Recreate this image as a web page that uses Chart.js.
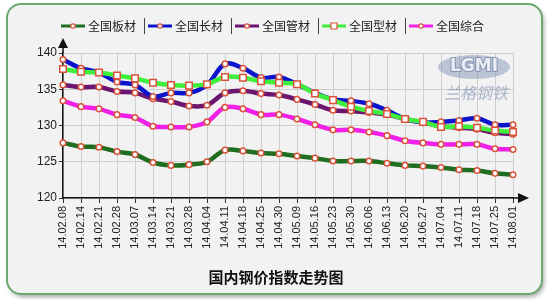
<!DOCTYPE html>
<html>
<head>
<meta charset="utf-8">
<script src="https://cdn.jsdelivr.net/npm/chart.js@4.4.1/dist/chart.umd.min.js"></script>
<style>
  html, body { margin: 0; padding: 0; background: #ffffff; }
  #wrap { width: 550px; height: 300px; }
</style>
</head>
<body>
<div id="wrap"><canvas id="steelChart" width="550" height="300"></canvas></div>
<script>
// weekly dates (yy.mm.dd)
const dateLabels = ['14.02.08','14.02.14','14.02.21','14.02.28','14.03.07','14.03.14','14.03.21','14.03.28',
  '14.04.04','14.04.11','14.04.18','14.04.25','14.04.30','14.05.09','14.05.16','14.05.23','14.05.30',
  '14.06.06','14.06.13','14.06.20','14.06.27','14.07.04','14.07.11','14.07.18','14.07.25','14.08.01'];

// index values
const banCai   = [127.6,127.1,127.0,126.4,126.0,124.9,124.5,124.6,125.0,126.6,126.5,126.2,126.1,125.8,125.5,125.1,125.1,125.1,124.8,124.5,124.4,124.2,123.9,123.8,123.4,123.2];
const changCai = [139.1,137.9,137.3,136.0,135.6,134.0,134.5,134.5,135.6,138.5,137.9,136.6,136.7,135.7,134.5,133.6,133.4,133.0,132.1,130.9,130.4,130.5,130.7,131.0,130.1,130.1];
const guanCai  = [135.6,135.3,135.3,134.7,134.5,133.7,133.3,132.7,132.8,134.5,134.8,134.4,134.2,133.6,132.9,132.1,132.0,131.8,131.5,130.9,130.4,129.9,129.7,129.5,129.0,128.8];
const xingCai  = [137.8,137.4,137.3,136.9,136.5,135.9,135.6,135.5,135.7,136.7,136.6,136.1,135.9,135.7,134.4,133.5,132.6,132.0,131.6,130.9,130.5,129.8,129.9,129.7,129.3,129.1];
const zongHe   = [133.4,132.6,132.3,131.5,131.1,129.9,129.8,129.8,130.5,132.5,132.3,131.5,131.5,130.9,130.1,129.4,129.4,129.1,128.6,127.9,127.6,127.4,127.4,127.4,126.8,126.7];

const seriesNames = ['全国板材','全国长材','全国管材','全国型材','全国综合'];
const yTicks = [120, 125, 130, 135, 140];

const cjkFont = '"Noto Sans CJK SC", "Noto Sans", sans-serif';
const markerBorder = '#d9533a';

function makeSeries(name, data, color, order, square) {
  return {
    label: name,
    data: data,
    borderColor: color,
    backgroundColor: color,
    borderWidth: 4.5,
    tension: 0.35,
    fill: false,
    order: order,
    pointStyle: square ? 'rect' : 'circle',
    pointRadius: square ? 4.6 : 2.8,
    pointBorderWidth: 1.5,
    pointBorderColor: markerBorder,
    pointBackgroundColor: '#ffffff',
    clip: false
  };
}

// rounded frame + shadow behind the whole chart
const framePlugin = {
  id: 'frame',
  beforeDraw(chart) {
    const ctx = chart.ctx;
    ctx.save();
    ctx.shadowColor = 'rgba(0,0,0,0.35)';
    ctx.shadowBlur = 4;
    ctx.shadowOffsetX = 2;
    ctx.shadowOffsetY = 3;
    ctx.beginPath();
    ctx.roundRect(7, 4, 535, 290, 14);
    ctx.fillStyle = '#f2f2f2';
    ctx.fill();
    ctx.restore();
    ctx.save();
    ctx.beginPath();
    ctx.roundRect(7, 4, 535, 290, 14);
    ctx.lineWidth = 2;
    ctx.strokeStyle = '#6ba86f';
    ctx.stroke();
    ctx.restore();
  }
};

// watermark logo, under the lines
const watermarkPlugin = {
  id: 'watermark',
  beforeDatasetsDraw(chart) {
    const ctx = chart.ctx;
    ctx.save();
    ctx.beginPath();
    ctx.ellipse(474, 67, 36, 12, 0, 0, Math.PI * 2);
    ctx.fillStyle = 'rgba(120,140,175,0.45)';
    ctx.fill();
    ctx.font = 'bold 17px "DejaVu Sans", sans-serif';
    ctx.textAlign = 'center';
    ctx.textBaseline = 'middle';
    ctx.lineWidth = 2;
    ctx.strokeStyle = 'rgba(100,120,160,0.6)';
    ctx.strokeText('LGMI', 474, 67);
    ctx.fillStyle = 'rgba(245,245,250,0.9)';
    ctx.fillText('LGMI', 474, 67);
    ctx.font = 'italic 16px ' + cjkFont;
    ctx.fillStyle = 'rgba(110,130,170,0.55)';
    ctx.fillText('兰格钢铁', 476, 93);
    ctx.restore();
  }
};

// axis arrows, legend row and bottom title
const decorPlugin = {
  id: 'decor',
  afterDraw(chart) {
    const ctx = chart.ctx;
    const area = chart.chartArea;
    ctx.save();
    ctx.strokeStyle = '#111';
    ctx.fillStyle = '#111';
    ctx.lineWidth = 1.5;
    // y arrow
    ctx.beginPath();
    ctx.moveTo(area.left, area.top);
    ctx.lineTo(area.left, 46);
    ctx.stroke();
    ctx.beginPath();
    ctx.moveTo(area.left - 5, 48);
    ctx.lineTo(area.left + 5, 48);
    ctx.lineTo(area.left, 38);
    ctx.closePath();
    ctx.fill();
    // x arrow
    ctx.beginPath();
    ctx.moveTo(area.right, area.bottom);
    ctx.lineTo(520, area.bottom);
    ctx.stroke();
    ctx.beginPath();
    ctx.moveTo(518, area.bottom - 5);
    ctx.lineTo(518, area.bottom + 5);
    ctx.lineTo(529, area.bottom);
    ctx.closePath();
    ctx.fill();

    // legend
    let x = 61;
    const y = 26;
    chart.data.datasets.forEach((ds, i) => {
      if (i > 0) {
        ctx.strokeStyle = '#444';
        ctx.lineWidth = 1;
        ctx.beginPath();
        ctx.moveTo(x - 3.5, y - 8);
        ctx.lineTo(x - 3.5, y + 8);
        ctx.stroke();
      }
      ctx.strokeStyle = ds.borderColor;
      ctx.lineWidth = 3;
      ctx.beginPath();
      ctx.moveTo(x, y);
      ctx.lineTo(x + 24, y);
      ctx.stroke();
      ctx.fillStyle = '#fff';
      ctx.strokeStyle = markerBorder;
      ctx.lineWidth = 1.2;
      ctx.beginPath();
      if (ds.pointStyle === 'rect') {
        ctx.rect(x + 9, y - 3, 6, 6);
      } else {
        ctx.arc(x + 12, y, 2.2, 0, Math.PI * 2);
      }
      ctx.fill();
      ctx.stroke();
      ctx.fillStyle = '#222';
      ctx.font = '12px ' + cjkFont;
      ctx.textAlign = 'left';
      ctx.textBaseline = 'middle';
      ctx.fillText(ds.label, x + 27, y);
      x += 87;
    });

    // title under the chart
    ctx.fillStyle = '#111';
    ctx.font = 'bold 15px ' + cjkFont;
    ctx.textAlign = 'center';
    ctx.textBaseline = 'middle';
    ctx.fillText('国内钢价指数走势图', 276, 277);
    ctx.restore();
  }
};

new Chart(document.getElementById('steelChart'), {
  type: 'line',
  data: {
    labels: dateLabels,
    datasets: [
      makeSeries(seriesNames[0], banCai, '#1f6e1f', 4, false),
      makeSeries(seriesNames[1], changCai, '#0a14cc', 1, false),
      makeSeries(seriesNames[2], guanCai, '#6b1570', 2, false),
      makeSeries(seriesNames[3], xingCai, '#3ef03a', 0, true),
      makeSeries(seriesNames[4], zongHe, '#f020e8', 3, false)
    ]
  },
  options: {
    responsive: false,
    animation: false,
    layout: { padding: { left: 0, top: 53, right: 37, bottom: 0 } },
    plugins: {
      legend: { display: false },
      tooltip: { enabled: false }
    },
    scales: {
      x: {
        offset: false,
        grid: { color: '#cfcfcf', lineWidth: 1, tickLength: 5, tickColor: '#333' },
        border: { color: '#111', width: 1.5 },
        ticks: {
          autoSkip: false,
          minRotation: 90,
          maxRotation: 90,
          padding: 3,
          color: '#222',
          font: { family: '"Liberation Sans", Arial, sans-serif', size: 11 }
        },
        afterFit(scale) { scale.height = 102; }
      },
      y: {
        min: 120,
        max: 140,
        afterBuildTicks(scale) { scale.ticks = yTicks.map(v => ({ value: v })); },
        grid: { color: '#cfcfcf', lineWidth: 1, tickLength: 4, tickColor: '#333' },
        border: { color: '#111', width: 1.5 },
        ticks: {
          padding: 2,
          color: '#222',
          font: { family: '"Liberation Sans", Arial, sans-serif', size: 12 }
        },
        afterFit(scale) { scale.width = 63; }
      }
    }
  },
  plugins: [framePlugin, watermarkPlugin, decorPlugin]
});
</script>
</body>
</html>
